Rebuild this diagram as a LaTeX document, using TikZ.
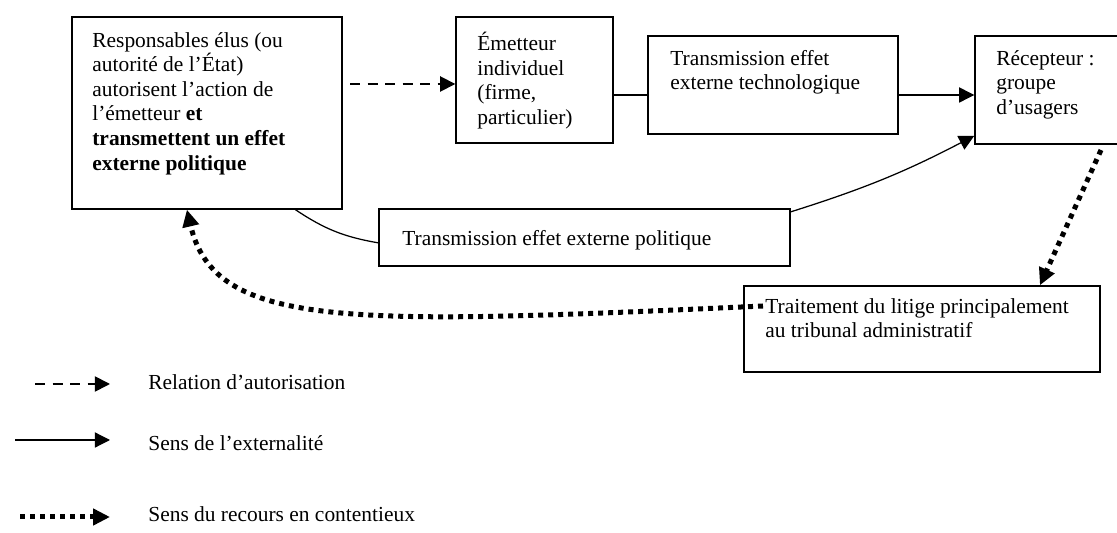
\documentclass[tikz,border=0pt]{standalone}
\usepackage{fontspec}
\setmainfont{Liberation Serif}
\usetikzlibrary{arrows.meta,fit,calc}

\begin{document}
\begin{tikzpicture}[x=0.56pt,y=-0.56pt,
  boite/.style={draw,line width=0.8pt,inner sep=0pt},
  texte/.style={anchor=north west,align=left,inner sep=0pt,font=\fontsize{12}{13.75}\selectfont,execute at begin node=\strut},
  ligne/.style={anchor=base west,inner sep=0pt,font=\fontsize{12}{13.75}\selectfont},
  fleche/.style={-{Triangle[length=8.5pt,width=8.5pt]}},
  autor/.style={fleche,line width=1pt,dash pattern=on 5.8pt off 4pt},
  extern/.style={line width=0.7pt},
  recours/.style={-{Triangle[length=9.5pt,width=9pt]},line width=2.8pt,dash pattern=on 2.8pt off 2.8pt}]
\useasboundingbox (0,0) rectangle (1117,533);

% boites
\node[boite,fit={(72,17) (342,209)}] (responsables) {};
\node[boite,fit={(456,17) (613,143)}] (emetteur) {};
\node[boite,fit={(648,36) (898,134)}] (techno) {};
\node[boite,fit={(975,36) (1125,144)}] (recepteur) {};
\node[boite,fit={(379,209) (790,266)}] (politique) {};
\node[boite,fit={(744,286) (1100,372)}] (litige) {};

% textes
\node[texte] (txtresp) at (92,32) {Responsables élus (ou\\autorité de l’État)\\autorisent l’action de\\l’émetteur \textbf{et}\\\textbf{transmettent un effet}\\\textbf{externe politique}};
\node[texte] (txtemet) at (477,32) {Émetteur\\individuel\\(firme,\\particulier)};
\node[texte] (txttechno) at (670,50) {Transmission effet\\externe technologique};
\node[texte] (txtrecep) at (996,50) {Récepteur :\\groupe\\d’usagers};
\node[ligne] (txtpol) at (402,246) {Transmission effet externe politique};
\node[texte] (txtlitige) at (765,298) {Traitement du litige principalement\\au tribunal administratif};

% liaisons
\coordinate (autorisation) at (350,84);
\draw[autor] (autorisation) -- (autorisation -| emetteur.west);
\coordinate (ext) at (0,95);
\draw[extern] (emetteur.east |- ext) -- (techno.west |- ext);
\draw[extern,fleche] (techno.east |- ext) -- (recepteur.west |- ext);
\draw[extern] ($(responsables.south west)!0.826!(responsables.south east)$) to[bend right=12] ([yshift=-3pt]politique.west);
\draw[extern,fleche] ([yshift=-2pt]politique.north east) to[bend right=5] ([yshift=5pt]recepteur.south west);
\coordinate (plainte) at (1101,150);
\draw[recours] (plainte) -- ($(litige.north west)!0.83!(litige.north east)$);
\coordinate (depart) at (763,306);
\draw[recours] (depart) .. controls (350,325) and (215,330) .. ($(responsables.south west)!0.426!(responsables.south east)$);

% legende
\coordinate (debut1) at (35,384);
\coordinate (fin1) at (110,384);
\draw[autor] (debut1) -- (fin1);
\node[ligne] (legende1) at (148,390) {Relation d’autorisation};
\coordinate (debut2) at (15,440);
\coordinate (fin2) at (110,440);
\draw[extern,fleche] (debut2) -- (fin2);
\node[ligne] (legende2) at (148,451) {Sens de l’externalité};
\coordinate (debut3) at (20,517);
\coordinate (fin3) at (110,517);
\draw[recours] (debut3) -- (fin3);
\node[ligne] (legende3) at (148,522) {Sens du recours en contentieux};
\end{tikzpicture}
\end{document}
